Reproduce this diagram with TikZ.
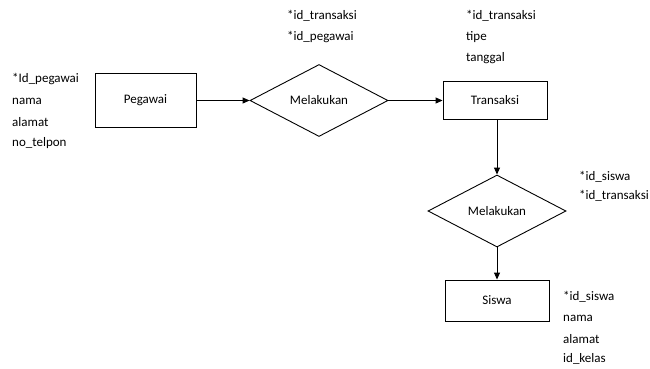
\documentclass[tikz,border=0pt]{standalone}
\usepackage{fontspec}
\setmainfont{Carlito}
\usetikzlibrary{shapes.geometric,arrows.meta}
\begin{document}
\begin{tikzpicture}[x=1pt,y=-1pt,
  every node/.style={font=\fontsize{13}{15}\selectfont, inner sep=0pt},
  entity/.style={draw, line width=0.9pt, minimum width=101pt, minimum height=54pt},
  relation/.style={draw, line width=0.9pt, diamond, aspect=1.9, minimum width=138pt, minimum height=72pt},
  attr/.style={anchor=west},
  conn/.style={line width=0.9pt, -{Triangle[length=7pt,width=6pt]}}]
\useasboundingbox (0,0) rectangle (650,368);
\node[entity] (peg) at (145.5,100.5) {Pegawai};
\node[relation] (rel1) at (319,100.5) {Melakukan};
\node[entity, minimum width=104pt, minimum height=38pt] (tra) at (495,100.5) {Transaksi};
\node[relation] (rel2) at (497,211) {Melakukan};
\node[entity, minimum width=104pt, minimum height=41pt] (sis) at (497,300.5) {Siswa};
\draw[conn] (peg.east) -- (rel1.west);
\draw[conn] (rel1.east) -- (tra.west);
\draw[conn] (tra.south -| rel2.north) -- (rel2.north);
\draw[conn] (rel2.south) -- (sis.north);
% attributes
\node[attr] (a1) at (12,79) {*Id\_pegawai};
\node[attr] (a2) at (12,101) {nama};
\node[attr] (a3) at (12,122) {alamat};
\node[attr] (a4) at (12,143) {no\_telpon};
\node[attr] (b1) at (287,16) {*id\_transaksi};
\node[attr] (b2) at (287,37) {*id\_pegawai};
\node[attr] (c1) at (466,16) {*id\_transaksi};
\node[attr] (c2) at (466,37) {tipe};
\node[attr] (c3) at (466,58) {tanggal};
\node[attr] (d1) at (579,177) {*id\_siswa};
\node[attr] (d2) at (579,196) {*id\_transaksi};
\node[attr] (e1) at (563,297) {*id\_siswa};
\node[attr] (e2) at (563,318) {nama};
\node[attr] (e3) at (563,339) {alamat};
\node[attr] (e4) at (563,359) {id\_kelas};
\end{tikzpicture}
\end{document}
